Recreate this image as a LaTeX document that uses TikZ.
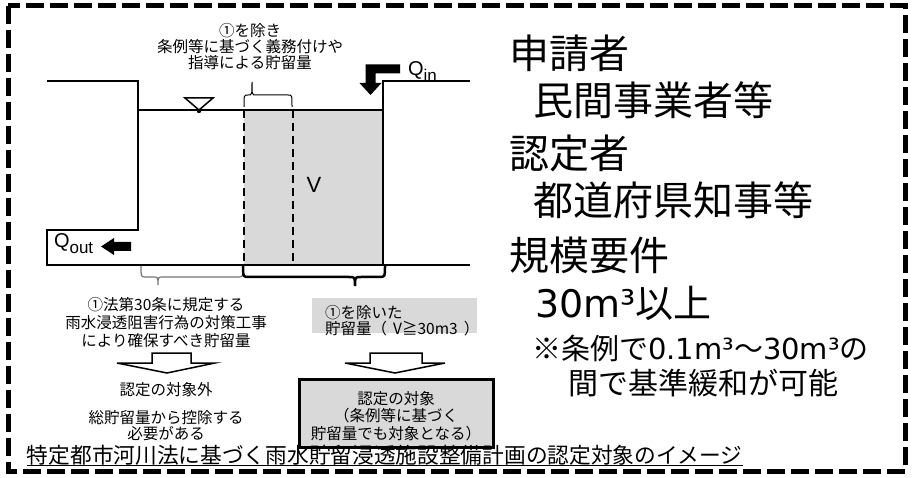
\documentclass[tikz,border=0pt]{standalone}
\usepackage{fontspec}
\setmainfont{Noto Sans CJK JP}
\newfontfamily\arialf{Liberation Sans}
\newfontfamily\dvf{DejaVu Sans}
\begin{document}
\begin{tikzpicture}[x=1pt,y=-1pt,
  every node/.style={inner sep=0pt, outer sep=0pt},
  wall/.style={line width=2pt, line join=miter},
  small/.style={font=\fontsize{15.5}{16}\selectfont, align=center},
  big/.style={font=\fontsize{40}{44}\selectfont, anchor=west},
  mid/.style={font=\fontsize{29}{32}\selectfont, anchor=west},
  shadefill/.style={fill=black!15},
  hollowarrow/.style={draw, line width=1.5pt, fill=white, line join=miter},
  dashwall/.style={line width=1.8pt, dash pattern=on 8pt off 5pt},
  bracethin/.style={line width=1pt},
  bracegray/.style={line width=1.2pt, draw=black!55},
  bracethick/.style={line width=2.5pt},
  border/.style={line width=5pt, dash pattern=on 18pt off 6pt},
  qlabel/.style={anchor=west, font=\arialf\fontsize{20}{20}\selectfont}
]
\useasboundingbox (0,0) rectangle (913,478);

% outer dashed border
\draw[border] (8,6) rectangle (905,471);

% storage region
\fill[shadefill] (244,110) rectangle (383,265);
\draw[dashwall] (244,110) -- (244,265);
\draw[dashwall] (293,110) -- (293,265);

% channel
\draw[wall] (47,81) -- (138,81) -- (138,230) -- (47,230) -- (47,265) -- (470,265);
\draw[wall] (383,265) -- (383,81) -- (470,81);
\draw[line width=1.5pt] (138,110) -- (383,110);

% water level symbol
\draw[line width=1.5pt, line join=miter] (185,98) -- (213,98) -- (199,110) -- cycle;
\fill (199,111) circle (2.2);

% V
\node[font=\arialf\fontsize{22}{22}\selectfont] (vlabel) at (314,185) {V};

% Q_in arrow and label
\fill (400,64.5) -- (365.5,64.5) -- (365.5,83) -- (359.5,83) -- (370.5,95) -- (381.5,83) -- (375.5,83) -- (375.5,73.5) -- (400,73.5) -- cycle;
\node[qlabel] (qin) at (408,72) {Q\raisebox{-0.3em}{\fontsize{17}{17}\selectfont in}};

% Q_out arrow and label
\fill (131,242) -- (114,242) -- (114,238) -- (101,246.5) -- (114,255) -- (114,251) -- (131,251) -- cycle;
\node[qlabel] (qout) at (54,244) {Q\raisebox{-0.3em}{\fontsize{17}{17}\selectfont out}};

% braces
\draw[bracethin] (244,107) .. controls (244,95) .. (248,95) .. controls (252,95) .. (252,82)
  .. controls (252,95) .. (256,95) -- (288,95) .. controls (292,95) .. (292,107);
\draw[bracegray] (141,266) .. controls (141,277) .. (146,277) -- (153,277) .. controls (158,277) .. (158,285)
  .. controls (158,277) .. (163,277) -- (238,277) .. controls (243,277) .. (243,266);
\draw[bracethick] (243,266) .. controls (243,277) .. (249,277) -- (349,277) .. controls (355,277) .. (355,286)
  .. controls (355,277) .. (361,277) -- (379,277) .. controls (385,277) .. (385,266);

% top note
\node[small] (topnote) at (250,47) {①を除き\\条例等に基づく義務付けや\\指導による貯留量};

% lower left notes
\node[small, font=\fontsize{15.5}{18}\selectfont] (lawnote) at (166,323) {①法第30条に規定する\\雨水浸透阻害行為の対策工事\\により確保すべき貯留量};
\draw[hollowarrow] (152,353) -- (191,353) -- (191,363) -- (215,363) -- (167,373) -- (117,363) -- (152,363) -- cycle;
\node[small] (outside) at (166,390) {認定の対象外};
\node[small] (deduct) at (166,426) {総貯留量から控除する\\必要がある};

% right lower boxes
\fill[shadefill] (312,298) rectangle (477,333);
\node[small, align=left, anchor=west, font=\fontsize{15.5}{16}\selectfont] (exclnote) at (325,320.5) {①を除いた\\貯留量（\hspace{0.4em}V≧30m3\hspace{0.4em}）};
\draw[hollowarrow] (370,353) -- (422,353) -- (422,363) -- (445,363) -- (395,373) -- (345,363) -- (370,363) -- cycle;
\draw[line width=3pt, fill=black!15] (299,379) rectangle (493,447);
\node[small, font=\fontsize{15.5}{17.5}\selectfont] (target) at (396,416) {認定の対象\\（条例等に基づく\\貯留量でも対象となる）};

% right column
\node[big] (applicant) at (509,53) {申請者};
\node[big] (applicantv) at (533,100) {民間事業者等};
\node[big] (approver) at (509,153) {認定者};
\node[big] (approverv) at (533,200) {都道府県知事等};
\node[big] (scale) at (509,255) {規模要件};
\node[big] (scalev) at (535,303) {\fontsize{38}{40}\selectfont{\dvf 30m³}以上};
\node[mid] (relax1) at (532,348) {※条例で{\dvf 0.1m³}〜{\dvf 30m³}の};
\node[mid, font=\fontsize{30}{32}\selectfont] (relax2) at (568,383) {間で基準緩和が可能};

% caption
\node[anchor=west, font=\fontsize{21.7}{22}\selectfont] (caption) at (27,455) {特定都市河川法に基づく雨水貯留浸透施設整備計画の認定対象のイメージ};
\draw[line width=1pt] ([yshift=-2pt]caption.base west) -- ([yshift=-2pt]caption.base east);
\end{tikzpicture}
\end{document}
